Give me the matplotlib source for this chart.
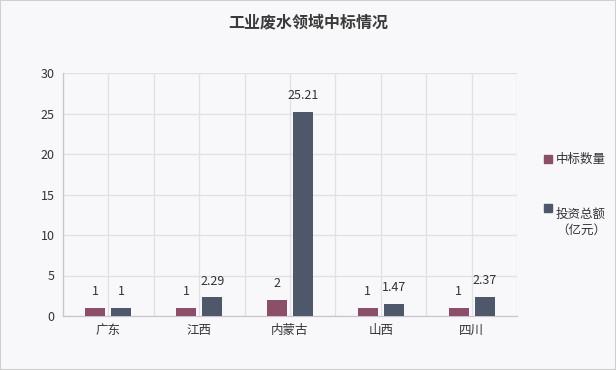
import matplotlib.pyplot as plt
import numpy as np

plt.rcParams['font.family'] = ['Noto Sans CJK SC', 'DejaVu Sans']

# data
provinces = ['广东', '江西', '内蒙古', '山西', '四川']
win_count = [1, 1, 2, 1, 1]
invest_total = [1, 2.29, 25.21, 1.47, 2.37]
series_names = ['中标数量', '投资总额\n（亿元）']

bg = '#f8f7fa'
c_count = '#8c4f69'
c_invest = '#4f576b'
txt = '#333333'

fig = plt.figure(figsize=(6.16, 3.7), dpi=100, facecolor=bg)
ax = fig.add_axes([63/616, 1-316/370, (517-63)/616, (316-73)/370], facecolor=bg)

x = np.arange(len(provinces))
w = 0.22
off = 0.143
b1 = ax.bar(x - off, win_count, w, color=c_count, zorder=3, label=series_names[0])
b2 = ax.bar(x + off, invest_total, w, color=c_invest, zorder=3, label=series_names[1])

for bars, vals in ((b1, win_count), (b2, invest_total)):
    for r, v in zip(bars, vals):
        ax.text(r.get_x() + r.get_width()/2, v + 1.2, f'{v:g}', ha='center', va='bottom',
                fontsize=9, color=txt)

ax.set_xlim(-0.5, len(provinces) - 0.5)
ax.set_ylim(0, 30)
ax.set_yticks(range(0, 31, 5))
ax.set_xticks(x)
ax.set_xticklabels(provinces)
ax.set_xticks(np.arange(-0.5, len(provinces), 1), minor=True)
ax.grid(True, which='major', axis='both', color='#e2dfe5', lw=0.9, zorder=0)
ax.grid(True, which='minor', axis='x', color='#e2dfe5', lw=0.9, zorder=0)
ax.tick_params(axis='both', which='both', length=0, labelsize=9, colors=txt, pad=6)
for s in ('top', 'right'):
    ax.spines[s].set_visible(False)
for s in ('left', 'bottom'):
    ax.spines[s].set_color('#c8c6cc')
    ax.spines[s].set_linewidth(0.9)

fig.text(0.5, 1-22/370, '工业废水领域中标情况', ha='center', va='center',
         fontsize=11.5, fontweight='bold', color='#3a3a3a')

# legend drawn manually at right
leg_items = [(159, c_count, series_names[0]), (208, c_invest, series_names[1])]
for y, c, name in leg_items:
    fig.patches.append(plt.Rectangle(((544)/616, 1-(y+4)/370), 8/616, 8/370,
                                     transform=fig.transFigure, color=c, figure=fig))
    fig.text(556/616, 1-y/370, name, ha='left', va='top' if '\n' in name else 'center',
             fontsize=9, color=txt, linespacing=1.25, multialignment='center',
             transform=fig.transFigure)

# border
fig.patches.append(plt.Rectangle((0, 0), 1, 1, transform=fig.transFigure, fill=False,
                                 edgecolor='#d0d0d0', lw=1.5, figure=fig))

fig.savefig('out.png', dpi=100, facecolor=bg)
